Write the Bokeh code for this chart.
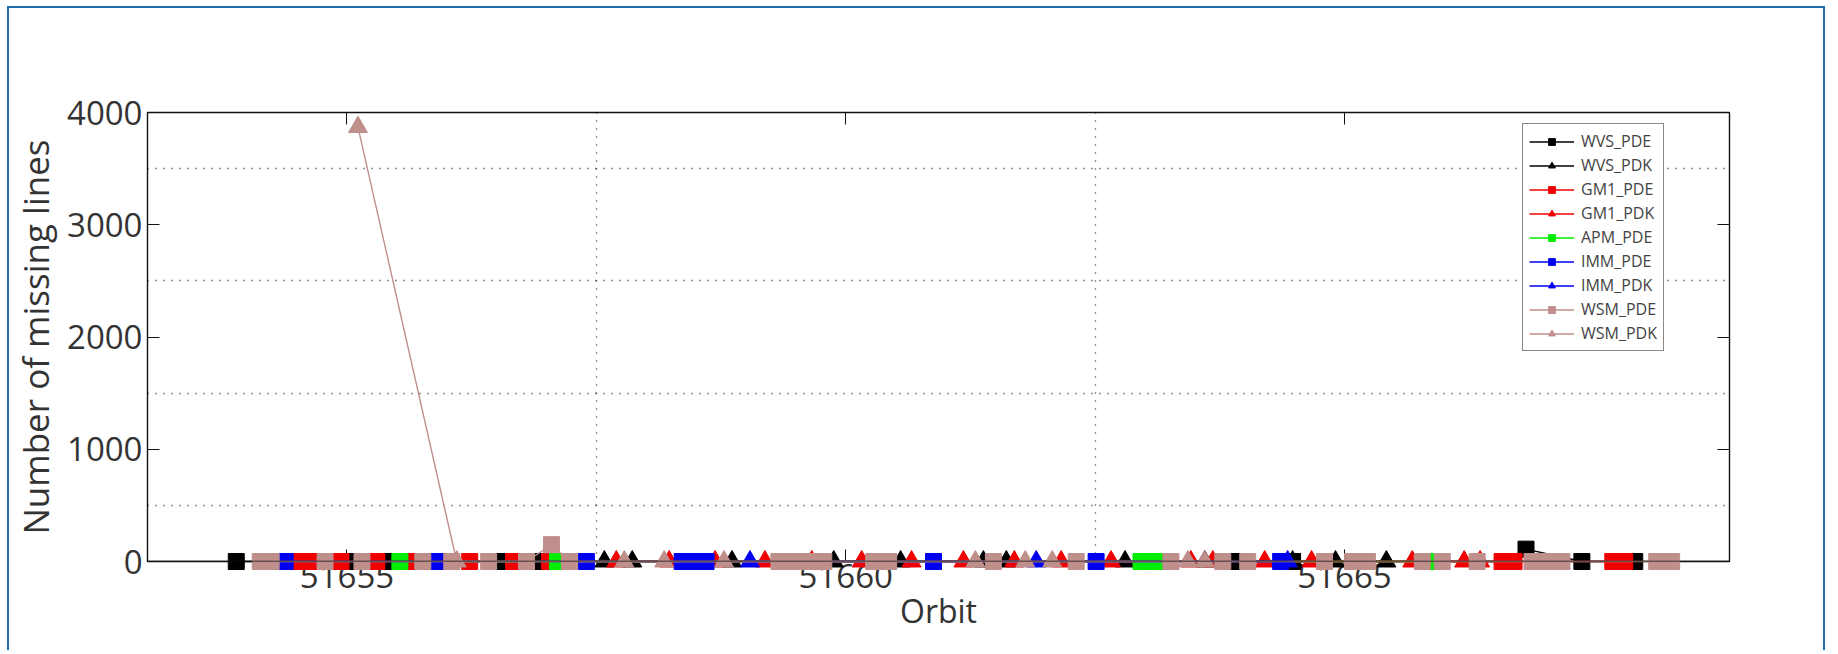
from bokeh.plotting import figure
from bokeh.models import FixedTicker, LinearAxis, Range1d, Legend, LegendItem, Span
from bokeh.embed import file_html
from bokeh.resources import INLINE

# ---------------- data ----------------
series_names = ["WVS_PDE", "WVS_PDK", "GM1_PDE", "GM1_PDK", "APM_PDE",
                "IMM_PDE", "IMM_PDK", "WSM_PDE", "WSM_PDK"]
series_colors = ["#000000", "#000000", "#f00000", "#f00000", "#00ee00",
                 "#0000f0", "#0000f0", "#bf8f8c", "#bf8f8c"]
series_markers = ["square", "triangle", "square", "triangle", "square",
                  "square", "triangle", "square", "triangle"]

wvs_pde_x = [51653.89, 51655.03, 51655.41, 51656.55, 51656.89, 51663.89, 51664.48, 51666.68, 51666.82, 51667.38, 51667.91]
wvs_pde_y = [0, 0, 0, 0, 0, 0, 0, 0, 110, 0, 0]

wvs_pdk_x = [51657.58, 51657.86, 51658.86, 51659.88, 51660.55, 51661.38, 51661.61, 51662.80, 51663.60, 51664.48, 51664.91, 51665.42]
wvs_pdk_y = [0, 0, 0, 0, 0, 0, 0, 0, 0, 0, 0, 0]

gm1_pde_x = [51654.51, 51654.63, 51654.94, 51655.30, 51655.63, 51656.23, 51656.67, 51657.03, 51666.58, 51666.70, 51666.98, 51667.69, 51667.81]
gm1_pde_y = [0, 0, 0, 0, 0, 0, 0, 0, 0, 0, 0, 0, 0]

gm1_pdk_x = [51657.70, 51658.23, 51658.69, 51659.19, 51659.66, 51660.16, 51660.66, 51661.18, 51661.69, 51662.16, 51662.66, 51663.46, 51663.68, 51664.20, 51664.67, 51665.68, 51666.20, 51666.36]
gm1_pdk_y = [0, 0, 0, 0, 0, 0, 0, 0, 0, 0, 0, 0, 0, 0, 0, 0, 0, 0]

apm_pde_x = [51655.53, 51657.11, 51662.96, 51663.10, 51665.88]
apm_pde_y = [0, 0, 0, 0, 0]

imm_pde_x = [51654.38, 51655.90, 51657.40, 51658.36, 51658.48, 51658.60, 51660.88, 51662.51, 51664.36]
imm_pde_y = [0, 0, 0, 0, 0, 0, 0, 0, 0]

imm_pdk_x = [51659.04, 51661.91, 51664.43]
imm_pdk_y = [0, 0, 0]

wsm_pde_x = [51654.13, 51654.24, 51654.78, 51655.15, 51655.76, 51656.05, 51656.42, 51656.80, 51657.05, 51657.23,
             51659.33, 51659.48, 51659.63, 51659.78, 51660.28, 51660.43, 51661.48, 51662.31, 51663.26, 51663.78,
             51664.03, 51664.80, 51665.08, 51665.23, 51665.78, 51665.98, 51666.33, 51666.88, 51667.03, 51667.18,
             51668.13, 51668.28]
wsm_pde_y = [0, 0, 0, 0, 0, 0, 0, 0, 150, 0,
             0, 0, 0, 0, 0, 0, 0, 0, 0, 0,
             0, 0, 0, 0, 0, 0, 0, 0, 0, 0,
             0, 0]

wsm_pdk_x = [51655.11, 51656.10, 51657.78, 51658.18, 51658.78, 51661.30, 51661.80, 51662.07, 51663.43, 51663.60]
wsm_pdk_y = [3870, 0, 0, 0, 0, 0, 0, 0, 0, 0]

series_x = [wvs_pde_x, wvs_pdk_x, gm1_pde_x, gm1_pdk_x, apm_pde_x, imm_pde_x, imm_pdk_x, wsm_pde_x, wsm_pdk_x]
series_y = [wvs_pde_y, wvs_pdk_y, gm1_pde_y, gm1_pdk_y, apm_pde_y, imm_pde_y, imm_pdk_y, wsm_pde_y, wsm_pdk_y]

x_ticks = [51655, 51660, 51665]
y_ticks = [0, 1000, 2000, 3000, 4000]
x_grid = [51657.5, 51662.5]
y_grid = [500, 1500, 2500, 3500]

x_label = "Orbit"
y_label = "Number of missing lines"

# ---------------- figure ----------------
FONT = "Open Sans"
TXT = "#333333"
BLUE = "#1f6cb0"

p = figure(width=1818, height=644,
           x_range=Range1d(51653, 51668.86), y_range=Range1d(0, 4000),
           output_backend="svg", toolbar_location=None,
           min_border_left=134, min_border_right=98,
           min_border_top=104, min_border_bottom=91,
           background_fill_color="white", border_fill_color="white",
           styles={"margin-left": "7px", "margin-top": "6px",
                   "border-top": "2px solid " + BLUE,
                   "border-left": "2px solid " + BLUE,
                   "border-right": "2px solid " + BLUE})

p.outline_line_color = "#111111"
p.outline_line_width = 1.4

# grids (dotted, offset half a step as in the picture)
p.xgrid.ticker = FixedTicker(ticks=x_grid)
p.ygrid.ticker = FixedTicker(ticks=y_grid)
for g in (p.xgrid, p.ygrid):
    g.grid_line_color = "#111111"
    g.grid_line_dash = "1 7"
    g.grid_line_width = 1.3
    g.grid_line_alpha = 0.9

# bottom axis
xa = p.xaxis[0]
xa.ticker = FixedTicker(ticks=x_ticks)
xa.major_label_overrides = {t: str(t) for t in x_ticks}
xa.axis_line_color = None
xa.major_tick_in = 12
xa.major_tick_out = 0
xa.major_tick_line_color = "#111111"
xa.minor_tick_line_color = None
xa.major_label_standoff = 2
xa.major_label_text_font = FONT
xa.major_label_text_font_size = "33px"
xa.major_label_text_color = TXT
xa.axis_label = x_label
xa.axis_label_standoff = -2
xa.axis_label_text_font = FONT
xa.axis_label_text_font_size = "32px"
xa.axis_label_text_font_style = "normal"
xa.axis_label_text_color = TXT

# left axis
ya = p.yaxis[0]
ya.ticker = FixedTicker(ticks=y_ticks)
ya.axis_line_color = None
ya.major_tick_in = 12
ya.major_tick_out = 0
ya.major_tick_line_color = "#111111"
ya.minor_tick_line_color = None
ya.major_label_standoff = 5
ya.major_label_text_font = FONT
ya.major_label_text_font_size = "33px"
ya.major_label_text_color = TXT
ya.axis_label = y_label
ya.axis_label_standoff = 5
ya.axis_label_text_font = FONT
ya.axis_label_text_font_size = "35px"
ya.axis_label_text_font_style = "normal"
ya.axis_label_text_color = TXT

# mirrored ticks (top and right), no labels
for loc, tk in (("above", x_ticks), ("right", y_ticks)):
    ax = LinearAxis(ticker=FixedTicker(ticks=tk), axis_line_color=None,
                    major_tick_in=12, major_tick_out=0,
                    major_tick_line_color="#111111",
                    minor_tick_line_color=None,
                    major_label_text_font_size="0px",
                    major_label_text_color=None,
                    major_label_standoff=0)
    p.add_layout(ax, loc)

# series
items = []
for name, c, m, xs, ys in zip(series_names, series_colors, series_markers, series_x, series_y):
    rl = p.line(xs, ys, line_color=c, line_width=1.4, level="overlay")
    size = 16 if m == "square" else 19
    rs = p.scatter(xs, ys, marker=m, size=size, fill_color=c, line_color=c,
                   line_width=1, level="overlay")
    items.append(LegendItem(label=name, renderers=[rl, rs]))

p.add_layout(Span(location=0, dimension="width", line_color="#111111",
                  line_width=1.4, level="overlay"))

legend = Legend(items=items, location=(1375, 210),
                border_line_color="#111111", border_line_width=1.2,
                background_fill_color="white", background_fill_alpha=1,
                padding=6, spacing=2, margin=0,
                glyph_width=45, glyph_height=17, label_height=17,
                label_standoff=7,
                label_text_font=FONT, label_text_font_size="16px",
                label_text_color="#444444")
p.add_layout(legend)

open("out.html", "w").write(file_html(p, INLINE))
